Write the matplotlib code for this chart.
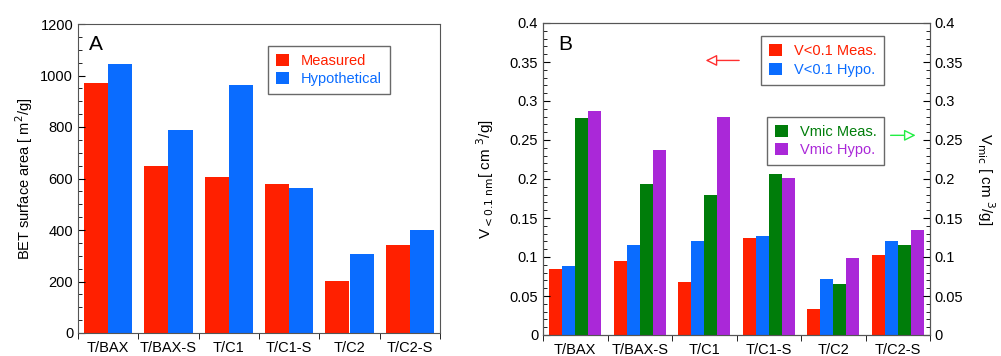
import numpy as np
import matplotlib
matplotlib.use("Agg")
import matplotlib.pyplot as plt
from matplotlib.ticker import MultipleLocator, FixedLocator, NullFormatter

plt.rcParams['font.family'] = ['Liberation Sans', 'DejaVu Sans']
plt.rcParams['font.size'] = 10.5

samples = ["T/BAX", "T/BAX-S", "T/C1", "T/C1-S", "T/C2", "T/C2-S"]

# panel A: BET surface area
bet_measured = [970, 650, 605, 580, 202, 341]
bet_hypo = [1045, 790, 965, 565, 308, 400]

# panel B: pore volumes
v01_measured = [0.084, 0.095, 0.068, 0.125, 0.033, 0.103]
v01_hypo = [0.089, 0.116, 0.121, 0.127, 0.072, 0.120]
vmic_measured = [0.278, 0.194, 0.179, 0.207, 0.065, 0.116]
vmic_hypo = [0.287, 0.237, 0.280, 0.201, 0.099, 0.135]

red = "#ff2000"
blue = "#0a6cff"
green = "#007d0a"
purple = "#aa28d8"

fig = plt.figure(figsize=(10.01, 3.56), dpi=100)
axA = fig.add_axes([78 / 1001, 1 - 333 / 356, 362 / 1001, 309 / 356])
axB = fig.add_axes([543 / 1001, 1 - 335 / 356, 387 / 1001, 312 / 356])

x = np.arange(len(samples))


def style_axis(ax):
    for s in ax.spines.values():
        s.set_color("#555555")
    ax.tick_params(axis="y", which="both", direction="in", right=False)
    ax.tick_params(axis="y", which="major", length=5)
    ax.tick_params(axis="y", which="minor", length=3)
    # small outward ticks between the groups
    ax.xaxis.set_major_locator(FixedLocator(x))
    ax.set_xticklabels(samples)
    ax.tick_params(axis="x", which="major", length=0, pad=6)
    ax.xaxis.set_minor_locator(FixedLocator(np.arange(-0.5, len(samples), 1.0)))
    ax.xaxis.set_minor_formatter(NullFormatter())
    ax.tick_params(axis="x", which="minor", direction="out", length=4)
    ax.set_xlim(-0.5, len(samples) - 0.5)


leg_kw = dict(fancybox=False, edgecolor="#444444", handlelength=0.9,
              handleheight=0.9, handletextpad=0.8, borderpad=0.55,
              labelspacing=0.3, fontsize=10.5, borderaxespad=0)

# ---- panel A
w = 0.4
axA.bar(x - w / 2, bet_measured, w, color=red, label="Measured")
axA.bar(x + w / 2, bet_hypo, w, color=blue, label="Hypothetical")
axA.set_ylim(0, 1200)
axA.yaxis.set_major_locator(MultipleLocator(200))
axA.yaxis.set_minor_locator(MultipleLocator(50))
style_axis(axA)
axA.set_ylabel("BET surface area [ m$^2$/g]", fontsize=10.5)
axA.text(0.03, 0.965, "A", transform=axA.transAxes, fontsize=15, va="top")
legA = axA.legend(loc="upper left", bbox_to_anchor=(0.525, 0.93), **leg_kw)
legA.get_frame().set_linewidth(1.0)
for t, c in zip(legA.get_texts(), [red, blue]):
    t.set_color(c)

# ---- panel B
w = 0.2
axB.bar(x - 1.5 * w, v01_measured, w, color=red, label="V<0.1 Meas.")
axB.bar(x - 0.5 * w, v01_hypo, w, color=blue, label="V<0.1 Hypo.")
axB.set_ylim(0, 0.4)
axB.yaxis.set_major_locator(MultipleLocator(0.05))
axB.yaxis.set_minor_locator(MultipleLocator(0.01))
axB.yaxis.set_major_formatter(plt.FuncFormatter(lambda v, p: f"{v:g}"))
style_axis(axB)
axB.set_ylabel("V$_{<0.1\\ \\mathrm{nm}}$[ cm $^3$/g]", fontsize=11, labelpad=10)
axB.text(0.04, 0.96, "B", transform=axB.transAxes, fontsize=15, va="top")

axB2 = axB.twinx()
axB2.bar(x + 0.5 * w, vmic_measured, w, color=green, label="Vmic Meas.")
axB2.bar(x + 1.5 * w, vmic_hypo, w, color=purple, label="Vmic Hypo.")
axB2.set_ylim(0, 0.4)
axB2.yaxis.set_major_locator(MultipleLocator(0.05))
axB2.yaxis.set_minor_locator(MultipleLocator(0.01))
axB2.yaxis.set_major_formatter(plt.FuncFormatter(lambda v, p: f"{v:g}"))
axB2.tick_params(axis="y", which="both", direction="in")
axB2.tick_params(axis="y", which="major", length=5)
axB2.tick_params(axis="y", which="minor", length=3)
for s in axB2.spines.values():
    s.set_color("#555555")
axB2.set_ylabel("V$_{\\mathrm{mic}}$ [ cm $^3$/g]", fontsize=11, rotation=-90, labelpad=24)

legB1 = axB.legend(loc="upper right", bbox_to_anchor=(0.882, 0.958), **leg_kw)
for t, c in zip(legB1.get_texts(), [red, blue]):
    t.set_color(c)
legB2 = axB2.legend(loc="upper right", bbox_to_anchor=(0.882, 0.70), **leg_kw)
for t, c in zip(legB2.get_texts(), [green, purple]):
    t.set_color(c)

# arrows pointing to the matching axis
axB2.annotate("", xy=(0.413, 0.88), xytext=(0.514, 0.88), xycoords="axes fraction",
              arrowprops=dict(arrowstyle="-|>", color="#ff3030", lw=1.0,
                              fc="white", mutation_scale=17))
axB2.annotate("", xy=(0.97, 0.64), xytext=(0.891, 0.64), xycoords="axes fraction",
              arrowprops=dict(arrowstyle="-|>", color="#22ee44", lw=1.0,
                              fc="white", mutation_scale=17))

fig.savefig("out.png", dpi=100)
